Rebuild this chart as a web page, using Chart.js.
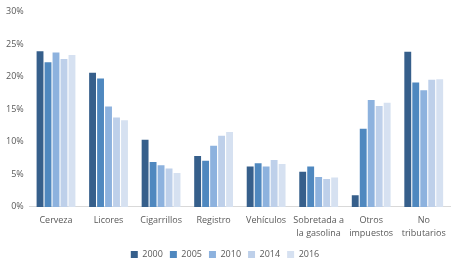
<!DOCTYPE html>
<html>
<head>
<meta charset="utf-8">
<script src="https://cdn.jsdelivr.net/npm/chart.js@4/dist/chart.umd.min.js"></script>
<style>
  html, body { margin: 0; padding: 0; background: #fff; }
  #wrap { position: relative; width: 452px; height: 262px; }
</style>
</head>
<body>
<div id="wrap"><canvas id="myChart"></canvas></div>
<script>
// categorías del eje x
const categories = [
  "Cerveza", "Licores", "Cigarrillos", "Registro", "Vehículos",
  ["Sobretada a", "la gasolina"], ["Otros", "impuestos"], ["No", "tributarios"]
];
const years = ["2000", "2005", "2010", "2014", "2016"];

// participación (%) por año
const v2000 = [23.9, 20.6, 10.3, 7.8, 6.2, 5.4, 1.8, 23.8];
const v2005 = [22.2, 19.7, 6.9, 7.1, 6.7, 6.2, 12.0, 19.1];
const v2010 = [23.7, 15.4, 6.4, 9.4, 6.2, 4.6, 16.4, 17.9];
const v2014 = [22.7, 13.7, 5.9, 10.9, 7.2, 4.3, 15.5, 19.5];
const v2016 = [23.3, 13.3, 5.2, 11.5, 6.6, 4.5, 16.0, 19.6];

const yTicks = [0, 5, 10, 15, 20, 25, 30];

const colors = ["#365f8b", "#4f88bf", "#8db2de", "#bed0ea", "#d6e1f1"];
const series = [v2000, v2005, v2010, v2014, v2016];

const ctx = document.querySelector("#myChart").getContext("2d");
new Chart(ctx, {
  type: "bar",
  data: {
    labels: categories,
    datasets: series.map((data, i) => ({
      label: years[i],
      data: data,
      backgroundColor: colors[i],
      borderWidth: 0,
      categoryPercentage: 0.76,
      barPercentage: 0.86,
    })),
  },
  options: {
    responsive: true,
    maintainAspectRatio: false,
    animation: false,
    layout: { padding: { top: 3, right: 2, left: 0, bottom: -7 } },
    plugins: {
      legend: {
        position: "bottom",
        labels: {
          boxWidth: 7,
          boxHeight: 7,
          padding: 7,
          color: "#595959",
          font: { family: "Open Sans", size: 9 },
        },
      },
      tooltip: { enabled: false },
    },
    scales: {
      y: {
        min: 0,
        max: 30,
        afterBuildTicks: (axis) => { axis.ticks = yTicks.map((v) => ({ value: v })); },
        grid: { display: false, drawTicks: false },
        border: { display: false },
        ticks: {
          padding: 6,
          color: "#595959",
          font: { family: "Open Sans", size: 9 },
          callback: (value) => value + "%",
        },
      },
      x: {
        grid: { display: false, tickLength: 4 },
        border: { display: true, color: "#d9d9d9", width: 1 },
        ticks: {
          maxRotation: 0,
          autoSkip: false,
          padding: 3,
          color: "#595959",
          font: { family: "Open Sans", size: 9, lineHeight: 1.45 },
        },
      },
    },
  },
});
</script>
</body>
</html>
